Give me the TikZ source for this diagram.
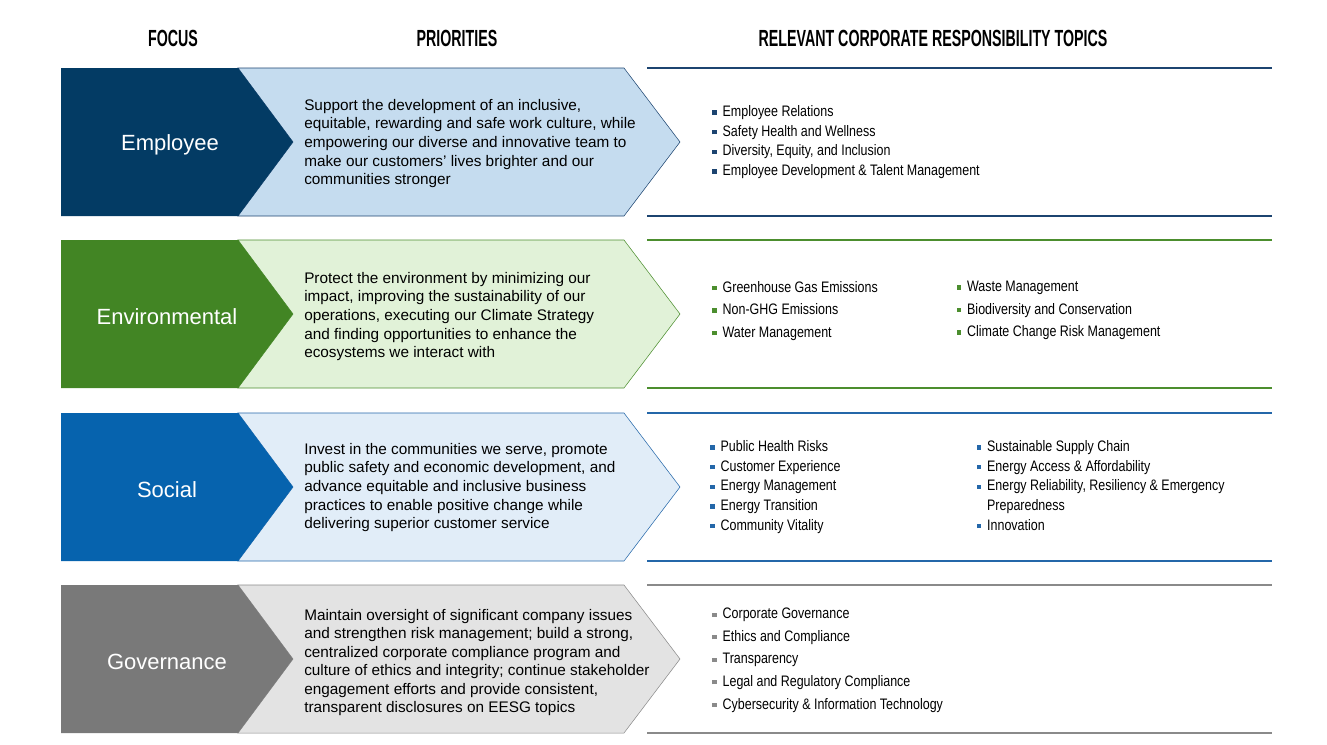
\documentclass[tikz,border=0pt]{standalone}
\usepackage{fontspec}
\setmainfont{Liberation Sans}
\newfontfamily\narrowfont[FakeStretch=0.82]{Liberation Sans}
\newfontfamily\headfont[FakeStretch=0.61]{Liberation Sans Bold}

\definecolor{empdark}{HTML}{033B64}
\definecolor{emplight}{HTML}{C5DCEF}
\definecolor{empline}{HTML}{1C4470}
\definecolor{envdark}{HTML}{428524}
\definecolor{envlight}{HTML}{E1F2D8}
\definecolor{envline}{HTML}{4C8E2E}
\definecolor{socdark}{HTML}{0663AE}
\definecolor{soclight}{HTML}{E1EDF8}
\definecolor{socline}{HTML}{2467A9}
\definecolor{govdark}{HTML}{797979}
\definecolor{govlight}{HTML}{E3E3E3}
\definecolor{govline}{HTML}{8A8A8A}

\newcommand\bul[1]{\textcolor{#1}{\rule[0.26ex]{3.2pt}{3.2pt}}\hspace{4.6pt}}

\begin{document}
\begin{tikzpicture}[
x=0.75pt, y=-0.75pt,
headtext/.style={font=\headfont\fontsize{17.5}{19}\selectfont},
focustext/.style={text=white, font=\fontsize{16.5}{19}\selectfont},
pritext/.style={anchor=west, align=left, inner sep=0pt,
  font=\fontsize{11.5}{13.9}\selectfont},
toptext/.style={anchor=north west, align=left, inner sep=0pt,
  font=\narrowfont\fontsize{11.4}{14.7}\selectfont},
wide/.style={font=\narrowfont\fontsize{11.4}{16.9}\selectfont}
]
\useasboundingbox (0,0) rectangle (1327,744);

% headers
\node[headtext] (hfocus) at (173,38) {FOCUS};
\node[headtext] (hprio) at (457,38) {PRIORITIES};
\node[headtext] (htopics) at (933,38) {RELEVANT CORPORATE RESPONSIBILITY TOPICS};

% employee
\draw[empline, fill=emplight] (238,68) -- (624,68) -- (680,142) -- (624,216) -- (238,216) -- (293,142) -- cycle;
\fill[empdark] (61,68) -- (238,68) -- (293,142) -- (238,216) -- (61,216) -- cycle;
\draw[empline, line width=1pt] (647,68) -- (1272,68);
\draw[empline, line width=1pt] (647,216) -- (1272,216);
\node[focustext] (emp) at (170,144.5) {Employee};
\node[pritext] (emppri) at (304,143.5) {Support the development of an inclusive,\\
equitable, rewarding and safe work culture, while\\
empowering our diverse and innovative team to\\
make our customers’ lives brighter and our\\
communities stronger};
\node[toptext] (emptop) at (712,105.5) {\bul{empline}Employee Relations\\
\bul{empline}Safety Health and Wellness\\
\bul{empline}Diversity, Equity, and Inclusion\\
\bul{empline}Employee Development \& Talent Management};

% environmental
\draw[envline, fill=envlight] (238,240) -- (624,240) -- (680,314) -- (624,388) -- (238,388) -- (293,314) -- cycle;
\fill[envdark] (61,240) -- (238,240) -- (293,314) -- (238,388) -- (61,388) -- cycle;
\draw[envline, line width=1pt] (647,240) -- (1272,240);
\draw[envline, line width=1pt] (647,388) -- (1272,388);
\node[focustext] (env) at (167,316.5) {Environmental};
\node[pritext] (envpri) at (304,316.5) {Protect the environment by minimizing our\\
impact, improving the sustainability of our\\
operations, executing our Climate Strategy\\
and finding opportunities to enhance the\\
ecosystems we interact with};
\node[toptext, wide] (envtop) at (712,281) {\bul{envline}Greenhouse Gas Emissions\\
\bul{envline}Non-GHG Emissions\\
\bul{envline}Water Management};
\node[toptext, wide] (envtopb) at (956.5,281) {\bul{envline}Waste Management\\
\bul{envline}Biodiversity and Conservation\\
\bul{envline}Climate Change Risk Management};

% social
\draw[socline, fill=soclight] (238,413) -- (624,413) -- (680,487) -- (624,561) -- (238,561) -- (293,487) -- cycle;
\fill[socdark] (61,413) -- (238,413) -- (293,487) -- (238,561) -- (61,561) -- cycle;
\draw[socline, line width=1pt] (647,413) -- (1272,413);
\draw[socline, line width=1pt] (647,561) -- (1272,561);
\node[focustext] (soc) at (167,489.5) {Social};
\node[pritext] (socpri) at (304,487.5) {Invest in the communities we serve, promote\\
public safety and economic development, and\\
advance equitable and inclusive business\\
practices to enable positive change while\\
delivering superior customer service};
\node[toptext] (soctop) at (710,440.5) {\bul{socline}Public Health Risks\\
\bul{socline}Customer Experience\\
\bul{socline}Energy Management\\
\bul{socline}Energy Transition\\
\bul{socline}Community Vitality};
\node[toptext] (soctopb) at (976.5,440.5) {\bul{socline}Sustainable Supply Chain\\
\bul{socline}Energy Access \& Affordability\\
\bul{socline}Energy Reliability, Resiliency \& Emergency\\
\phantom{\bul{socline}}Preparedness\\
\bul{socline}Innovation};

% governance
\draw[govline, fill=govlight] (238,585) -- (624,585) -- (680,659) -- (624,733) -- (238,733) -- (293,659) -- cycle;
\fill[govdark] (61,585) -- (238,585) -- (293,659) -- (238,733) -- (61,733) -- cycle;
\draw[govline, line width=1pt] (647,585) -- (1272,585);
\draw[govline, line width=1pt] (647,733) -- (1272,733);
\node[focustext] (gov) at (167,661.5) {Governance};
\node[pritext] (govpri) at (304,662.5) {Maintain oversight of significant company issues\\
and strengthen risk management; build a strong,\\
centralized corporate compliance program and\\
culture of ethics and integrity; continue stakeholder\\
engagement efforts and provide consistent,\\
transparent disclosures on EESG topics};
\node[toptext, wide] (govtop) at (712,608) {\bul{govline}Corporate Governance\\
\bul{govline}Ethics and Compliance\\
\bul{govline}Transparency\\
\bul{govline}Legal and Regulatory Compliance\\
\bul{govline}Cybersecurity \& Information Technology};

\end{tikzpicture}
\end{document}
